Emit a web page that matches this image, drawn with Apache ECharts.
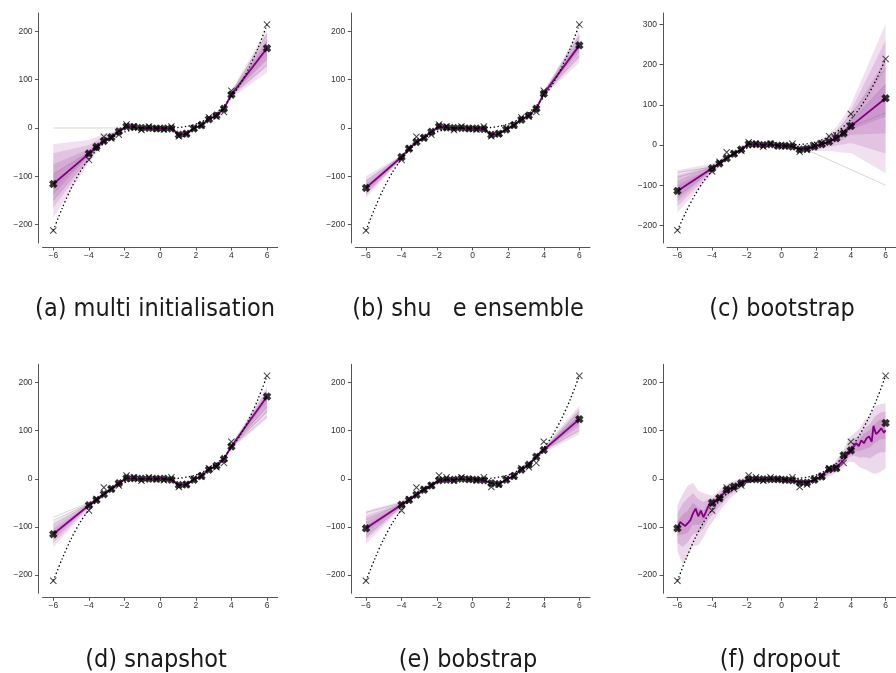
<!DOCTYPE html>
<html><head><meta charset="utf-8">
<script src="https://cdn.jsdelivr.net/npm/echarts@6/dist/echarts.min.js"></script>
<style>html,body{margin:0;padding:0;background:#fff}#c{width:896px;height:673px}</style>
</head><body><div id="c"></div>
<script>
// ---------- data ----------
const xTicks = [-6, -4, -2, 0, 2, 4, 6];
const yTicks = [-200, -100, 0, 100, 200];
const yTicksC = [-200, -100, 0, 100, 200, 300];
const titles = ['(a) multi initialisation', '(b) shu   e ensemble', '(c) bootstrap',
                '(d) snapshot', '(e) bobstrap', '(f) dropout'];

const testX = [-6, -4, -3.58, -3.16, -2.74, -2.32, -1.89, -1.47, -1.05, -0.63, -0.21,
               0.21, 0.63, 1.05, 1.47, 1.89, 2.32, 2.74, 3.16, 3.58, 4, 6];
const obsY  = [-212, -66, -42, -18, -21, -14, 7, 3, -4, 3, -1,
               -3, 3, -17, -12, 0, 5, 22, 24, 33, 77, 214];

const trueX = [-6, -5.5, -5, -4.5, -4, -3.5, -3, -2.5, -2, -1.5, -1, -0.5, 0,
               0.5, 1, 1.5, 2, 2.5, 3, 3.5, 4, 4.5, 5, 5.5, 6];
const trueY = [-212, -166, -125, -91, -64, -43, -27, -16, -8, -3.4, -1, -0.1, 0,
               0.1, 1, 3.4, 8, 16, 27, 43, 64, 91, 125, 166, 214];

const meanA = [-116, -53, -39, -27, -19, -7, 3, 2, 0, 0, -1, -1, -1, -14, -12, -1, 6, 18, 26, 40, 69, 165];
const meanB = [-124, -60, -43, -29, -20, -8, 3, 1, 0, 0, -1, -1, -2, -14, -12, -3, 6, 17, 26, 40, 71, 171];
const meanC = [-114, -58, -46, -33, -22, -11, 2, 2, 0, 2, -2, -2, -4, -11, -9, -4, 2, 8, 17, 29, 47, 116];
const meanD = [-115, -55, -44, -32, -21, -9, 1, 1, 0, 0, 0, 0, -2, -13, -12, -2, 6, 19, 27, 41, 67, 171];
const meanE = [-103, -54, -44, -33, -23, -14, -3, -2, -2, 0, -1, -2, -3, -9, -11, -2, 6, 19, 29, 46, 60, 124];
const predF = [-103, -50, -40, -23, -16, -9, -1, -1, -1, -1, -1, -2, -3, -8, -8, -2, 5, 20, 22, 49, 59, 116];

const fLineX = [-6, -5.85, -5.7, -5.55, -5.4, -5.25, -5.1, -4.95, -4.8, -4.65,
                -4.5, -4.35, -4.2, -4.05, -3.9, -3.6, -3.3, -3.0, -2.7, -2.4,
                -2.1, -1.8, -1.4, -1.0, -0.6, -0.2, 0.2, 0.6, 1.0, 1.4,
                1.8, 2.2, 2.6, 3.0, 3.3, 3.6, 3.8, 4.0, 4.15, 4.3,
                4.45, 4.6, 4.75, 4.9, 5.05, 5.2, 5.3, 5.45, 5.6, 5.75, 5.9, 6.0];
const fLineY = [-103, -90, -94, -98, -92, -86, -72, -62, -78, -66,
                -80, -68, -56, -54, -50, -40, -29, -22, -16, -10,
                -4, -1, -1, -1, -1, -1, -2, -3, -7, -8,
                -4, 3, 16, 22, 28, 40, 50, 58, 66, 74,
                68, 80, 74, 84, 88, 77, 110, 93, 98, 105, 96, 101];

// band fans: x vertices, then [lo, hi] for each level (outer -> inner)
const aLX = [-6, -4, -3.16, -2.32, -1.89];
const aLLo = [[-185, -72, -32, -10, 2], [-165, -66, -30, -9.5, 2.2], [-150, -61, -29, -9, 2.5], [-138, -58, -28, -8.5, 2.7]];
const aLHi = [[-33, -25, -12, -4, 5], [-52, -35, -17, -5, 4.5], [-75, -44, -22, -6, 4], [-95, -50, -25, -7, 3.5]];
const aRX = [3.16, 3.58, 4, 6];
const aRLo = [[24, 37, 62, 115], [24.5, 38, 64, 128], [25, 38.5, 66, 140], [25.5, 39, 67, 150]];
const aRHi = [[28, 43, 78, 205], [27.5, 42, 75, 195], [27, 41.5, 73, 185], [26.5, 41, 71, 178]];

const bLX = [-6, -4, -3.16, -2.32, -1.89];
const bLLo = [[-145, -64, -31, -10, 2], [-139, -63, -30.5, -9.5, 2.3], [-134, -62, -30, -9, 2.5], [-130, -61, -29.5, -8.7, 2.7]];
const bLHi = [[-100, -56, -27, -6, 4], [-108, -57, -27.5, -6.5, 3.8], [-114, -58, -28, -7, 3.5], [-119, -59, -28.5, -7.3, 3.3]];
const bRX = [3.16, 3.58, 4, 6];
const bRLo = [[25, 38, 66, 135], [25.3, 38.5, 67, 145], [25.5, 39, 68, 155], [25.7, 39.3, 69, 162]];
const bRHi = [[27, 42, 76, 202], [26.7, 41.5, 75, 194], [26.5, 41, 74, 186], [26.3, 40.7, 73, 179]];

const cLX = [-6, -4, -3.16, -2.32, -1.89];
const cLLo = [[-168, -72, -38, -14, 0], [-152, -67, -36, -13, 0.5], [-140, -64, -35, -12.5, 1], [-128, -61, -34, -12, 1.5]];
const cLHi = [[-63, -46, -28, -8, 4], [-76, -50, -30, -9, 3.5], [-88, -53, -31, -9.5, 3], [-100, -55, -32, -10, 2.5]];
const cRX = [0.63, 1.05, 1.47, 1.89, 2.32, 2.74, 3.16, 3.58, 4, 6];
const cRLo = [[-6, -14, -14, -15, -15, -15, -17, -19, -20, -70],
              [-5.5, -13, -12, -11, -8, -5, -2, 2, 5, -21],
              [-5, -12, -11, -8, -3, 1, 7, 14, 25, 29],
              [-4.5, -11.5, -10, -6, 0, 5, 12, 22, 38, 70]];
const cRHi = [[-2, -8, -3, 6, 15, 28, 45, 70, 100, 301],
              [-2.5, -9, -5, 3, 10, 20, 34, 55, 85, 260],
              [-3, -10, -6, 0, 6, 15, 27, 44, 70, 215],
              [-3.5, -10.5, -8, -2, 4, 11, 22, 36, 58, 150]];

const dLX = [-6, -4, -3.16, -2.32, -1.89];
const dLLo = [[-142, -62, -35, -11, 0], [-134, -60, -34, -10.5, 0.3], [-127, -58, -33, -10, 0.5], [-121, -56.5, -32.5, -9.5, 0.7]];
const dLHi = [[-88, -50, -29, -7, 3], [-97, -52, -30, -7.5, 2.7], [-104, -53, -31, -8, 2.3], [-110, -54, -31.5, -8.5, 1.8]];
const dRX = [3.16, 3.58, 4, 6];
const dRLo = [[25, 38, 62, 125], [25.5, 39, 64, 138], [26, 39.5, 65, 150], [26.5, 40, 66, 160]];
const dRHi = [[29, 44, 72, 192], [28.5, 43, 70, 186], [28, 42.5, 69, 181], [27.5, 42, 68, 177]];

const eLX = [-6, -4, -3.16, -2.32, -1.89, -1.47];
const eLLo = [[-135, -62, -37, -19, -9, -5], [-126, -60, -36, -18, -7, -4], [-118, -58, -35, -16.5, -5.5, -3.3], [-111, -56, -34, -15, -4.3, -2.7]];
const eLHi = [[-67, -46, -29, -9, 2, 1], [-78, -48, -30, -10, 0.5, 0], [-88, -50, -31, -11.5, -1, -0.8], [-96, -52, -32, -13, -2, -1.3]];
const eRX = [2.74, 3.16, 3.58, 4, 6];
const eRLo = [[16, 25, 41, 54, 92], [17, 26, 42.5, 56, 100], [17.7, 27, 44, 57.5, 108], [18.3, 28, 45, 58.5, 115]];
const eRHi = [[22, 33, 51, 67, 152], [21, 32, 49.5, 65, 146], [20.3, 31, 48, 63, 139], [19.7, 30, 47, 61.5, 132]];

const fBandX = [-6, -5.7, -5.4, -5.1, -4.8, -4.5, -4.2, -3.9, -3.5, -3,
                -2.5, -2, -1, 0, 1, 1.5, 2, 2.5, 3, 3.5,
                3.9, 4.2, 4.5, 4.8, 5.1, 5.4, 5.7, 6];
const fBandLo = [
  [-150, -178, -162, -140, -138, -122, -100, -86, -64, -42, -27, -10, -5, -5, -12, -13, -7, 0, 10, 22, 36, 34, 24, 20, 14, 10, 14, 22],
  [-133, -142, -132, -115, -112, -104, -84, -72, -54, -34, -21, -7, -3, -3, -10, -11, -5, 4, 15, 29, 45, 48, 44, 45, 42, 50, 55, 55],
  [-118, -116, -112, -95, -96, -92, -72, -63, -46, -29, -17, -5, -2, -2, -9, -10, -4, 6, 18, 34, 50, 58, 58, 62, 65, 75, 82, 82]];
const fBandHi = [
  [-55, -32, -14, -8, -25, -30, -33, -36, -20, -8, -1, 4, 3, 3, -3, -4, 2, 18, 32, 55, 85, 95, 105, 122, 132, 150, 155, 157],
  [-72, -52, -40, -30, -42, -48, -42, -40, -26, -13, -5, 2, 1, 1, -4, -5, 0, 15, 28, 50, 72, 84, 90, 105, 115, 130, 138, 140],
  [-88, -74, -66, -50, -60, -66, -48, -44, -30, -17, -8, 0, 0, 0, -5, -6, -1, 13, 25, 46, 63, 78, 84, 95, 102, 115, 124, 120]];

// ensemble members (grey lines): lists of [x, y]
const membersA = [[[-6, 0], [-2.32, 0], [-1.89, 3]], [[-6, -150], [-4, -62]], [[-6, -95], [-4, -50]], [[-6, -125], [-4, -56]],
                  [[4, 69], [6, 130]], [[4, 70], [6, 145]], [[4, 72], [6, 195]]];
const membersB = [[[-6, -110], [-4, -58]], [[-6, -135], [-4, -62]], [[4, 70], [6, 150]], [[4, 72], [6, 190]]];
const membersC = [[[1.47, -12], [6, -100]], [[2.74, 14], [4, 75], [6, 190]], [[3.16, 18], [4, 45], [6, 80]],
                  [[3.58, 30], [4, 60], [6, 150]], [[-6, -68], [-4, -55]], [[-6, -80], [-4, -57]], [[-6, -130], [-4, -60]]];
const membersD = [[[-6, -80], [-3.58, -43]], [[-6, -86], [-4, -52]], [[-6, -95], [-4, -53]],
                  [[4, 66], [6, 130]], [[4, 66], [6, 140]], [[4, 67], [6, 150]]];
const membersE = [[[-6, -70], [-4, -50]], [[-6, -85], [-4, -52]], [[-6, -120], [-4, -57]],
                  [[4, 60], [6, 140]], [[4, 60], [6, 100]], [[4, 62], [6, 130]]];

// ---------- layout ----------
const grids = [
  {left: 42.6, top: 13, width: 235.1, height: 230},
  {left: 355.3, top: 13, width: 234.7, height: 230},
  {left: 667, top: 13, width: 236, height: 230},
  {left: 42.6, top: 364.3, width: 235.1, height: 229},
  {left: 355.3, top: 364.3, width: 234.7, height: 229},
  {left: 667, top: 364.3, width: 236, height: 229}
];
const yRanges = [[-238, 238], [-238, 238], [-243.5, 328], [-238, 238], [-238, 238], [-238, 238]];
const titlePos = [[155, 309], [468, 309], [782, 309], [156, 660], [468, 660], [780, 660]];

const PURPLE = '#800080';
const minus = v => String(v).replace('-', '\u2212');
const zip = (xs, ys) => xs.map((x, i) => [x, ys[i]]);

function axisCommon(ticks, margin) {
  return {
    offset: 4,
    axisLine: {onZero: false, lineStyle: {color: '#555', width: 1}},
    axisTick: {customValues: ticks, length: 3.5, lineStyle: {color: '#555', width: 1}},
    axisLabel: {customValues: ticks, fontSize: 8.5, color: '#333', margin: margin,
                fontFamily: 'Liberation Sans, Arial, sans-serif', formatter: minus},
    splitLine: {show: false}
  };
}

const xAxes = grids.map((g, i) => Object.assign({type: 'value', gridIndex: i, min: -6.6, max: 6.6}, axisCommon(xTicks, 4)));
const yAxes = grids.map((g, i) => Object.assign({type: 'value', gridIndex: i, min: yRanges[i][0], max: yRanges[i][1]},
                                                 axisCommon(i === 2 ? yTicksC : yTicks, 6)));

function bandSeries(gi, fans, alpha) {
  return {
    type: 'custom', xAxisIndex: gi, yAxisIndex: gi, silent: true, z: 1,
    data: [[fans[0][0][0], fans[0][1][0][0]]],
    renderItem: (params, api) => {
      const children = [];
      fans.forEach(([xs, los, his]) => {
        los.forEach((lo, k) => {
          const hi = his[k];
          const pts = [];
          for (let i = 0; i < xs.length; i++) pts.push(api.coord([xs[i], hi[i]]));
          for (let i = xs.length - 1; i >= 0; i--) pts.push(api.coord([xs[i], lo[i]]));
          children.push({type: 'polygon', shape: {points: pts},
                         style: {fill: 'rgba(128,0,128,' + alpha + ')', stroke: null}});
        });
      });
      return {type: 'group', children: children};
    }
  };
}

function memberSeries(gi, members) {
  return members.map(m => ({
    type: 'line', xAxisIndex: gi, yAxisIndex: gi, data: m, symbol: 'none', silent: true, z: 2,
    lineStyle: {color: 'rgba(110,110,110,0.28)', width: 1}
  }));
}

const XMARK = 'path://M1,0L5,4L9,0L10,1L6,5L10,9L9,10L5,6L1,10L0,9L4,5L0,1Z';
const FMARK = 'path://M3,0L5,2L7,0L10,3L8,5L10,7L7,10L5,8L3,10L0,7L2,5L0,3Z';

function commonSeries(gi, lineData, preds) {
  return [
    {type: 'line', xAxisIndex: gi, yAxisIndex: gi, data: lineData, symbol: 'none', silent: true, z: 3,
     lineStyle: {color: PURPLE, width: 1.8}},
    {type: 'line', xAxisIndex: gi, yAxisIndex: gi, data: zip(trueX, trueY), symbol: 'none', smooth: 0.3, silent: true, z: 4,
     lineStyle: {color: '#000', width: 1.3, type: [1.4, 2.4]}},
    {type: 'scatter', xAxisIndex: gi, yAxisIndex: gi, data: zip(testX, obsY), symbol: XMARK, symbolSize: 7, silent: true, z: 5,
     itemStyle: {color: '#111'}},
    {type: 'scatter', xAxisIndex: gi, yAxisIndex: gi, data: zip(testX, preds), symbol: FMARK, symbolSize: 8.5, silent: true, z: 6,
     itemStyle: {color: '#000'}}
  ];
}

const series = [];
const panels = [
  {fans: [[aLX, aLLo, aLHi], [aRX, aRLo, aRHi]], mem: membersA, mean: meanA},
  {fans: [[bLX, bLLo, bLHi], [bRX, bRLo, bRHi]], mem: membersB, mean: meanB},
  {fans: [[cLX, cLLo, cLHi], [cRX, cRLo, cRHi]], mem: membersC, mean: meanC},
  {fans: [[dLX, dLLo, dLHi], [dRX, dRLo, dRHi]], mem: membersD, mean: meanD},
  {fans: [[eLX, eLLo, eLHi], [eRX, eRLo, eRHi]], mem: membersE, mean: meanE}
];
panels.forEach((p, gi) => {
  series.push(bandSeries(gi, p.fans, 0.12));
  memberSeries(gi, p.mem).forEach(s => series.push(s));
  commonSeries(gi, zip(testX, p.mean), p.mean).forEach(s => series.push(s));
});
series.push(bandSeries(5, [[fBandX, fBandLo, fBandHi]], 0.15));
commonSeries(5, zip(fLineX, fLineY), predF).forEach(s => series.push(s));

const graphic = titles.map((t, i) => ({
  type: 'text', x: titlePos[i][0], y: titlePos[i][1], silent: true,
  style: {text: t, fill: '#1a1a1a', fontSize: 25, fontFamily: '"Liberation Sans Narrow", "DejaVu Sans Condensed", sans-serif',
          align: 'center', verticalAlign: 'middle', textAlign: 'center', textVerticalAlign: 'middle'}
}));

const chart = echarts.init(document.getElementById('c'), null, {renderer: 'canvas'});
chart.setOption({
  animation: false,
  backgroundColor: '#fff',
  grid: grids,
  xAxis: xAxes,
  yAxis: yAxes,
  series: series,
  graphic: graphic
});
</script></body></html>
